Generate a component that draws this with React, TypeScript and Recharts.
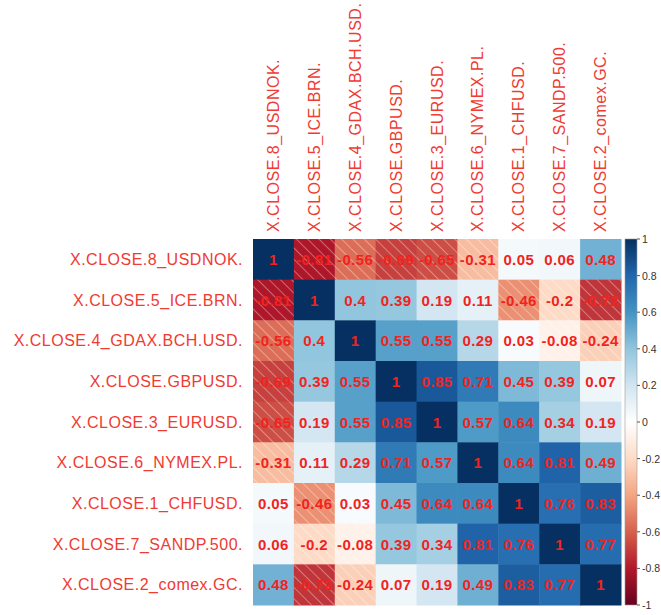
import React from 'react'
import { ScatterChart, Scatter, XAxis, YAxis } from 'recharts'

const labels = [
  'X.CLOSE.8_USDNOK.',
  'X.CLOSE.5_ICE.BRN.',
  'X.CLOSE.4_GDAX.BCH.USD.',
  'X.CLOSE.GBPUSD.',
  'X.CLOSE.3_EURUSD.',
  'X.CLOSE.6_NYMEX.PL.',
  'X.CLOSE.1_CHFUSD.',
  'X.CLOSE.7_SANDP.500.',
  'X.CLOSE.2_comex.GC.',
]

const rowUSDNOK = [1, -0.81, -0.56, -0.69, -0.65, -0.31, 0.05, 0.06, 0.48]
const rowICEBRN = [-0.81, 1, 0.4, 0.39, 0.19, 0.11, -0.46, -0.2, -0.72]
const rowGDAX = [-0.56, 0.4, 1, 0.55, 0.55, 0.29, 0.03, -0.08, -0.24]
const rowGBPUSD = [-0.69, 0.39, 0.55, 1, 0.85, 0.71, 0.45, 0.39, 0.07]
const rowEURUSD = [-0.65, 0.19, 0.55, 0.85, 1, 0.57, 0.64, 0.34, 0.19]
const rowNYMEX = [-0.31, 0.11, 0.29, 0.71, 0.57, 1, 0.64, 0.81, 0.49]
const rowCHFUSD = [0.05, -0.46, 0.03, 0.45, 0.64, 0.64, 1, 0.76, 0.83]
const rowSANDP = [0.06, -0.2, -0.08, 0.39, 0.34, 0.81, 0.76, 1, 0.77]
const rowCOMEX = [0.48, -0.72, -0.24, 0.07, 0.19, 0.49, 0.83, 0.77, 1]

const rows = [rowUSDNOK, rowICEBRN, rowGDAX, rowGBPUSD, rowEURUSD, rowNYMEX, rowCHFUSD, rowSANDP, rowCOMEX]

const colorbarTicks = [-1, -0.8, -0.6, -0.4, -0.2, 0, 0.2, 0.4, 0.6, 0.8, 1]

// RdBu, from -1 to 1
const palette = [
  '#67001F', '#B2182B', '#D6604D', '#F4A582', '#FDDBC7', '#FFFFFF',
  '#D1E5F0', '#92C5DE', '#4393C3', '#2166AC', '#053061',
]

const W = 661
const H = 615
const TOP = 239
const BOTTOM = 10
const LEFT_W = 253
const RIGHT_W = 40
const N = labels.length
const CELL_W = (W - LEFT_W - RIGHT_W) / N
const CELL_H = (H - TOP - BOTTOM) / N
const BAR_X = W - RIGHT_W + 4
const BAR_W = 12

const hex = (h: string) => [1, 3, 5].map((i) => parseInt(h.slice(i, i + 2), 16))

function corrColor(v: number) {
  const t = (v + 1) * 5
  const i = Math.min(9, Math.floor(t))
  const f = t - i
  const a = hex(palette[i])
  const b = hex(palette[i + 1])
  const c = a.map((x, k) => Math.round(x + (b[k] - x) * f))
  return `rgb(${c[0]},${c[1]},${c[2]})`
}

const cells = rows.flatMap((r, i) => r.map((v, j) => ({ x: j + 0.5, y: i + 0.5, v })))
const barPoints = colorbarTicks.map((v) => ({ x: 0, cb: v }))
const axisTicks = labels.map((_, i) => i + 0.5)

const FONT = '"Liberation Sans", Arial, sans-serif'
const RED = '#f03a32'

function CellShape(props: any) {
  const { cx, cy, payload } = props
  const v = payload.v
  const x = cx - CELL_W / 2
  const y = cy - CELL_H / 2
  return (
    <g>
      <rect x={x} y={y} width={CELL_W + 0.5} height={CELL_H + 0.5} fill={corrColor(v)} />
      {v < 0 && <rect x={x} y={y} width={CELL_W} height={CELL_H} fill="url(#hatch)" />}
    </g>
  )
}

function ValueShape(props: any) {
  const { cx, cy, payload } = props
  return (
    <text
      x={cx}
      y={cy}
      textAnchor="middle"
      dominantBaseline="central"
      fill="#f2231d"
      fontFamily={FONT}
      fontWeight="bold"
      fontSize={15}
      letterSpacing={0.4}
    >
      {String(payload.v)}
    </text>
  )
}

// colorbar tick mark + label, placed by the "cb" axis scale
function BarTickShape(props: any) {
  const { cy, payload } = props
  const x = BAR_X + BAR_W
  return (
    <g>
      <line x1={x} x2={x + 3} y1={cy} y2={cy} stroke="#555" />
      <text
        x={x + 5}
        y={cy}
        dominantBaseline="central"
        fill="#333"
        fontFamily={FONT}
        fontSize={10.5}
      >
        {String(payload.cb)}
      </text>
    </g>
  )
}

function TopTick({ x, y, payload }: any) {
  const label = labels[Math.floor(payload.value)]
  return (
    <text
      x={x}
      y={y}
      transform={`rotate(-90 ${x} ${y})`}
      textAnchor="start"
      dominantBaseline="central"
      fill={RED}
      fontFamily={FONT}
      fontSize={16}
      letterSpacing={0.5}
    >
      {label}
    </text>
  )
}

function LeftTick({ x, y, payload }: any) {
  return (
    <text
      x={x}
      y={y}
      textAnchor="end"
      dominantBaseline="central"
      fill={RED}
      fontFamily={FONT}
      fontSize={16}
      letterSpacing={0.5}
    >
      {labels[Math.floor(payload.value)]}
    </text>
  )
}

function ColorBar() {
  return (
    <g>
      <defs>
        <pattern
          id="hatch"
          patternUnits="userSpaceOnUse"
          width={8}
          height={8}
          patternTransform="rotate(-45)"
        >
          <line x1={0} y1={0} x2={0} y2={8} stroke="#ffffff" strokeOpacity={0.6} strokeWidth={1.2} />
        </pattern>
        <linearGradient id="cbar" x1="0" y1="1" x2="0" y2="0">
          {palette.map((c, i) => (
            <stop key={i} offset={`${i * 10}%`} stopColor={c} />
          ))}
        </linearGradient>
      </defs>
      <rect
        x={BAR_X}
        y={TOP}
        width={BAR_W}
        height={H - TOP - BOTTOM}
        fill="url(#cbar)"
        stroke="#999"
        strokeWidth={0.6}
      />
    </g>
  )
}

export default function App() {
  return (
    <div style={{ position: 'absolute', left: 0, top: 0, background: '#fff' }}>
      <ScatterChart width={W} height={H} margin={{ top: 0, right: 0, bottom: BOTTOM, left: 0 }}>
        <ColorBar />
        <XAxis
          type="number"
          dataKey="x"
          domain={[0, N]}
          ticks={axisTicks}
          orientation="top"
          height={TOP}
          axisLine={false}
          tickLine={false}
          tickSize={0}
          tickMargin={7}
          tick={<TopTick />}
          interval={0}
        />
        <YAxis
          yAxisId="cells"
          type="number"
          dataKey="y"
          domain={[0, N]}
          reversed
          ticks={axisTicks}
          width={LEFT_W}
          axisLine={false}
          tickLine={false}
          tickSize={0}
          tickMargin={10}
          tick={<LeftTick />}
          interval={0}
        />
        <YAxis
          yAxisId="cb"
          type="number"
          dataKey="cb"
          orientation="right"
          domain={[-1, 1]}
          ticks={colorbarTicks}
          width={RIGHT_W}
          axisLine={false}
          tickLine={false}
          tick={false}
        />
        <Scatter
          yAxisId="cells"
          data={cells}
          shape={CellShape}
          isAnimationActive={false}
        />
        <Scatter
          yAxisId="cells"
          data={cells}
          shape={ValueShape}
          isAnimationActive={false}
        />
        <Scatter
          yAxisId="cb"
          data={barPoints}
          shape={BarTickShape}
          isAnimationActive={false}
        />
      </ScatterChart>
    </div>
  )
}
